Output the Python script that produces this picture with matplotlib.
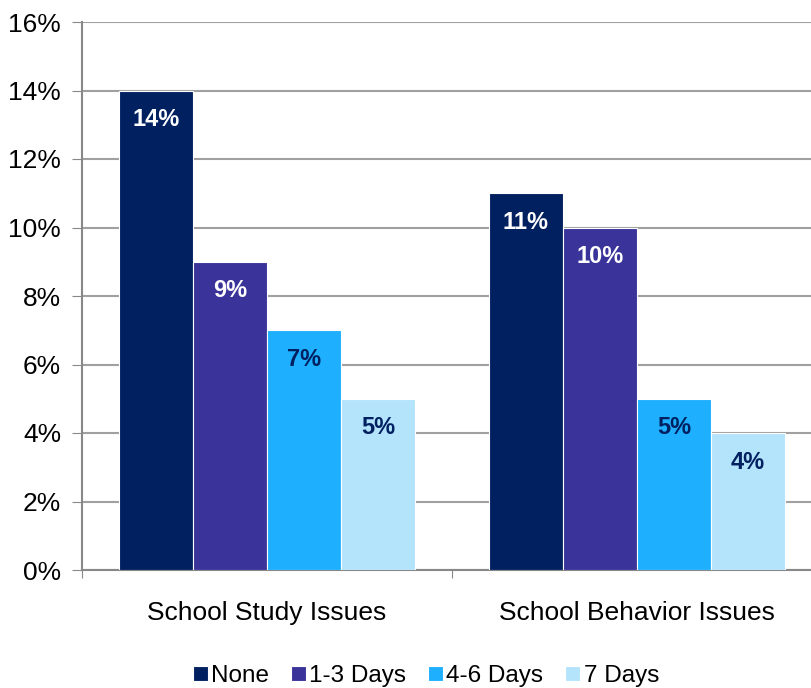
import numpy as np
import matplotlib.pyplot as plt

plt.rcParams['font.family'] = ['Liberation Sans', 'DejaVu Sans']

categories = ['School Study Issues', 'School Behavior Issues']
series = ['None', '1-3 Days', '4-6 Days', '7 Days']
values = {
    'None': [14, 11],
    '1-3 Days': [9, 10],
    '4-6 Days': [7, 5],
    '7 Days': [5, 4],
}
colors = ['#002060', '#3a3399', '#1eb0ff', '#b4e4fc']
label_colors = ['white', 'white', '#002060', '#002060']

fig = plt.figure(figsize=(8.11, 6.88), dpi=100)
ax = fig.add_axes([82 / 811, 118 / 688, 740 / 811, 548 / 688])

width = 0.2
centers = np.arange(len(categories)) + 0.5
for i, s in enumerate(series):
    xs = centers + (i - 1.5) * width
    bars = ax.bar(xs, values[s], width, color=colors[i], edgecolor='white',
                  linewidth=0.8, label=s, zorder=3)
    for b, v in zip(bars, values[s]):
        ax.text(b.get_x() + b.get_width() / 2, v - 0.85, f'{v}%',
                ha='center', va='center', color=label_colors[i],
                fontsize=17, fontweight='bold', zorder=4)

ax.set_xlim(0, 2)
ax.set_ylim(0, 16)
ax.set_yticks(np.arange(0, 17, 2))
ax.set_yticklabels([f'{t}%' for t in range(0, 17, 2)], fontsize=19)
ax.set_xticks([0, 1, 2])
ax.set_xticklabels([])
ax.set_xticks(centers, minor=True)
ax.set_xticklabels(categories, minor=True, fontsize=19)
ax.tick_params(axis='x', which='minor', length=0, pad=22)
ax.tick_params(axis='x', which='major', length=6, color='#888888', direction='out')
ax.tick_params(axis='y', length=7, color='#888888', pad=8)

ax.grid(axis='y', color='#a0a0a0', linewidth=1.5, zorder=0)
for side in ['top', 'right']:
    ax.spines[side].set_visible(False)
for side in ['left', 'bottom']:
    ax.spines[side].set_color('#888888')
    ax.spines[side].set_linewidth(1.5)

fig.legend(loc='center', bbox_to_anchor=(426 / 811, 1 - 676 / 688), ncol=4,
           frameon=False, fontsize=17.5, handlelength=0.6, handleheight=0.6,
           handletextpad=0.15, columnspacing=0.9)

fig.savefig('out.png', dpi=100)
